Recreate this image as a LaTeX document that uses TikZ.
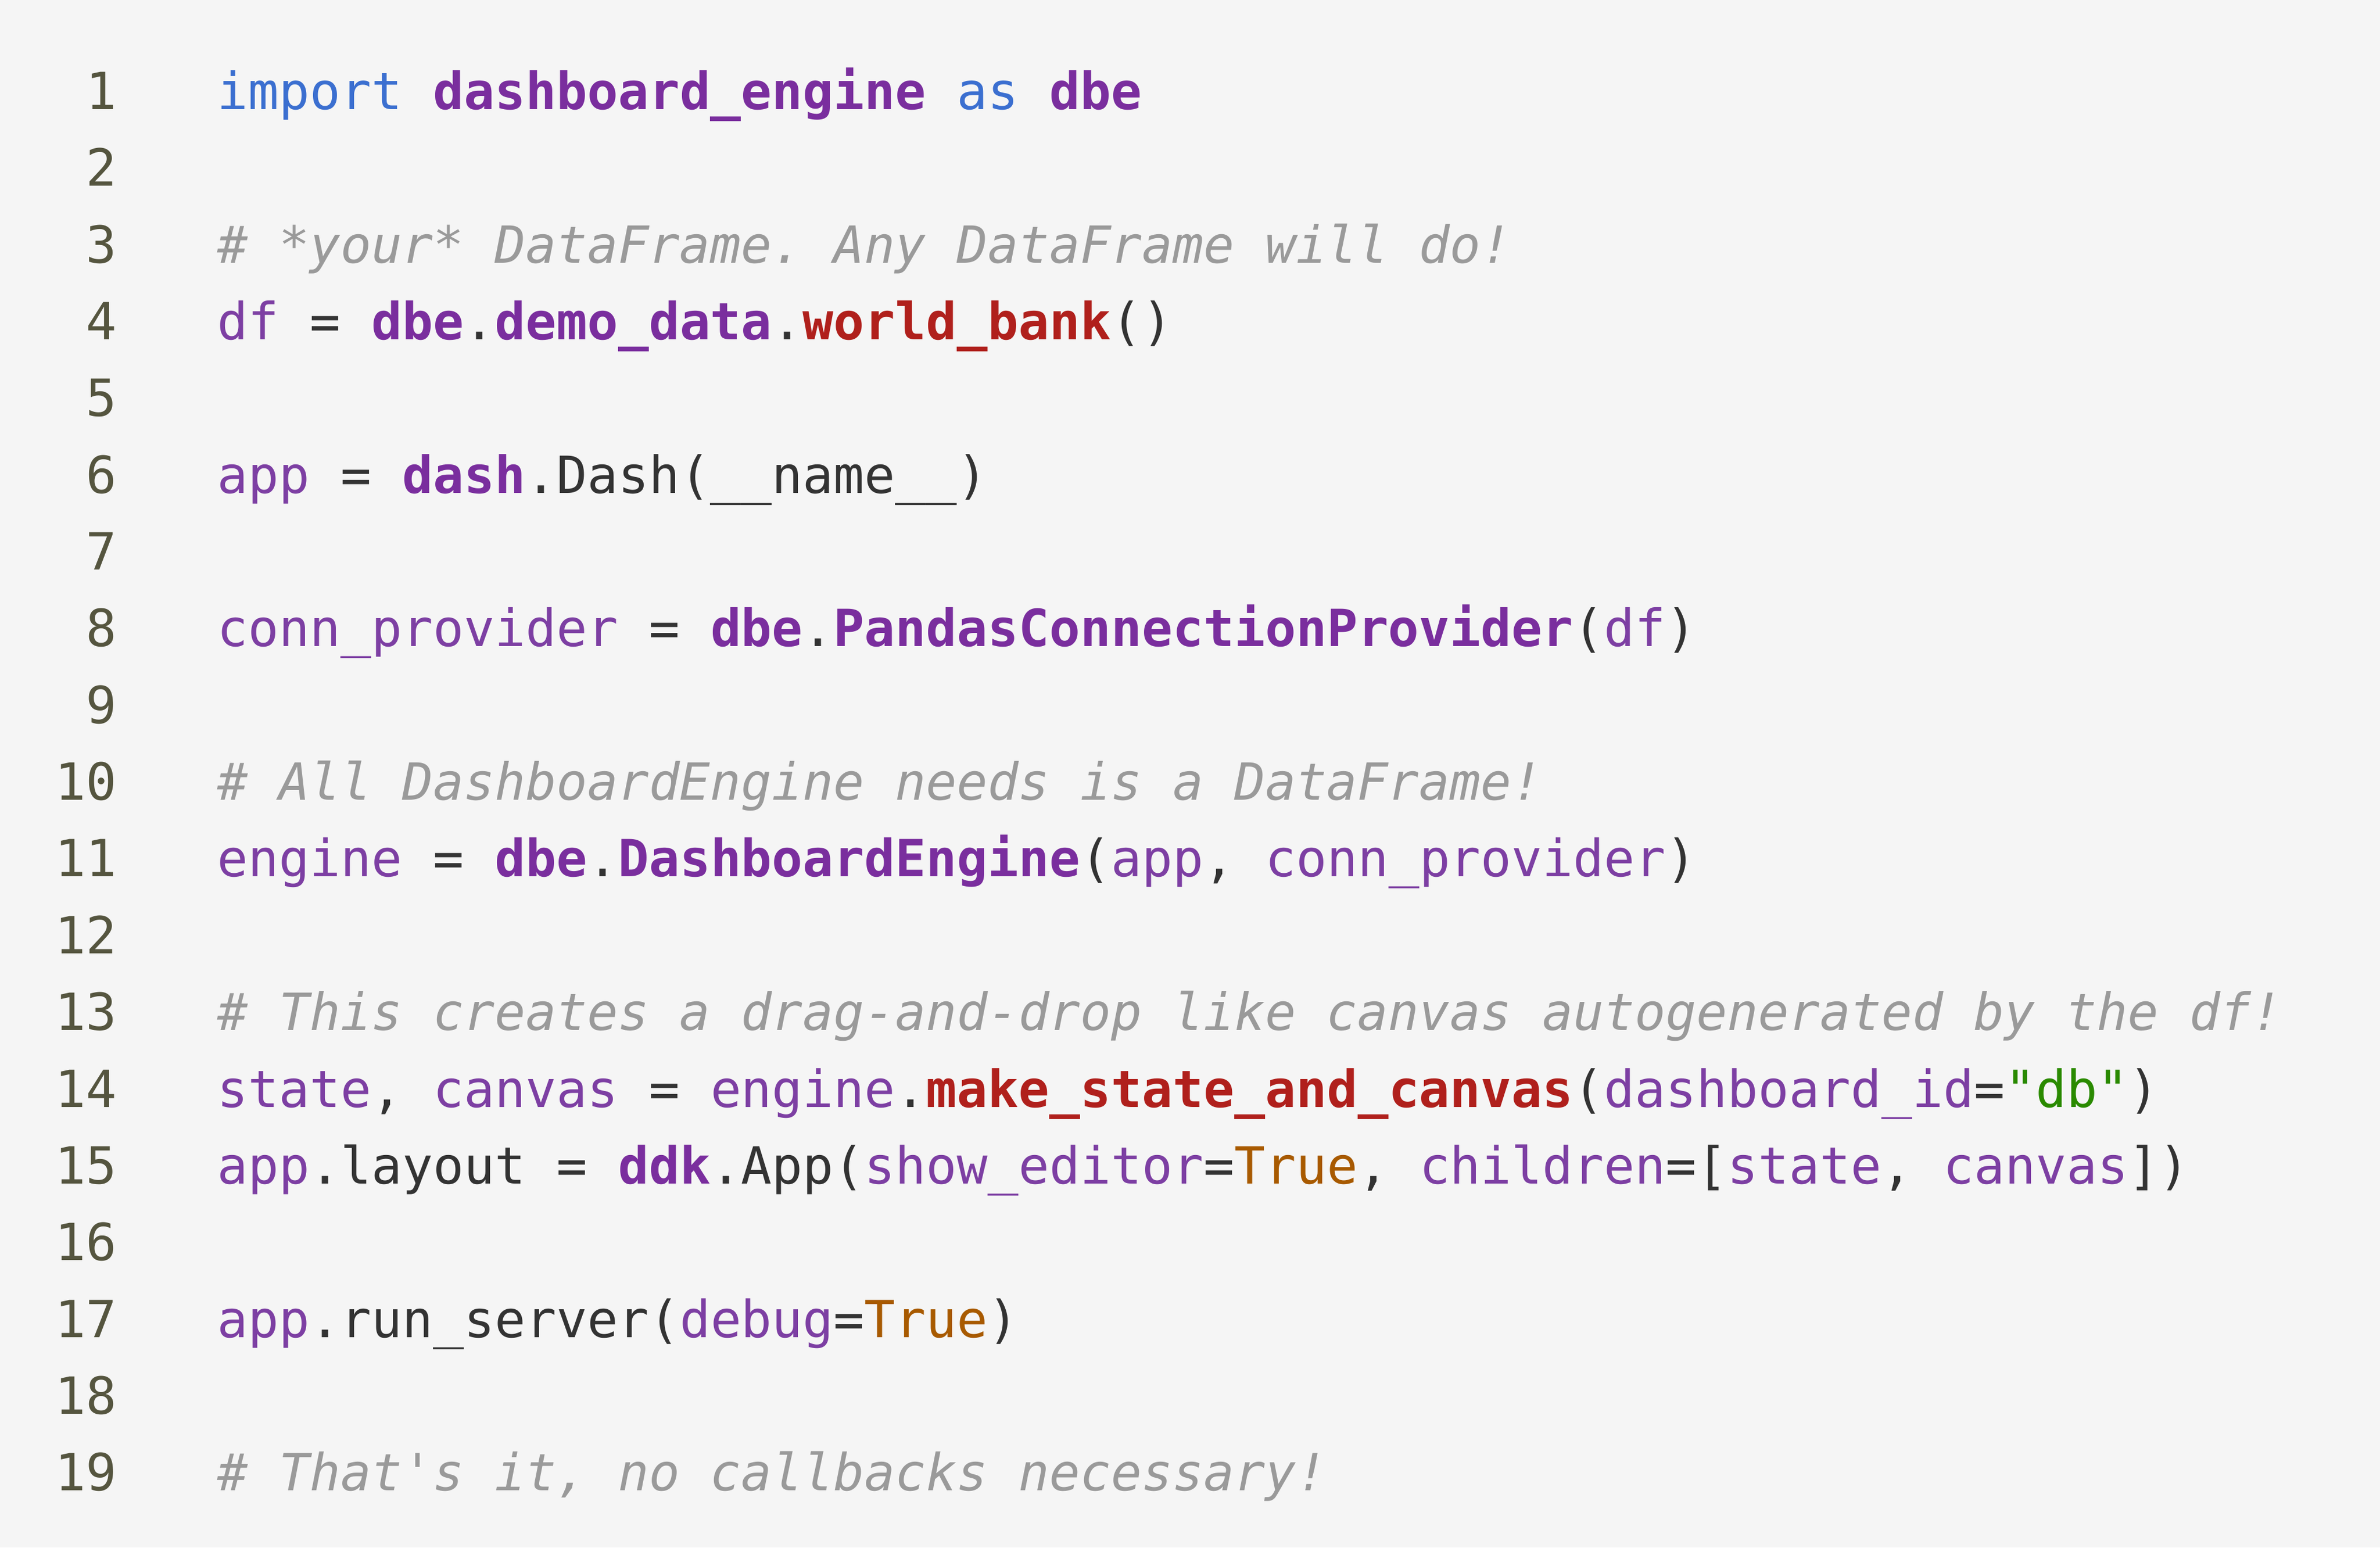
\documentclass[tikz,border=0pt]{standalone}
\usepackage{fontspec}
\setmonofont{DejaVu Sans Mono}
\usetikzlibrary{positioning}
\definecolor{bgray}{HTML}{F5F5F5}
\definecolor{numcol}{HTML}{55553F}
\definecolor{kwblue}{HTML}{3B6FD0}
\definecolor{modpurple}{HTML}{7A2E9E}
\definecolor{varpurple}{HTML}{7D3FA3}
\definecolor{fnred}{HTML}{B0201C}
\definecolor{comgray}{HTML}{9A9A9A}
\definecolor{plaingray}{HTML}{333333}
\definecolor{boolorange}{HTML}{A85A00}
\definecolor{strgreen}{HTML}{2A8A00}
\newcommand{\ckw}[1]{\textcolor{kwblue}{#1}}
\newcommand{\cmodule}[1]{\textcolor{modpurple}{\bfseries #1}}
\newcommand{\cfun}[1]{\textcolor{fnred}{\bfseries #1}}
\newcommand{\cvar}[1]{\textcolor{varpurple}{#1}}
\newcommand{\ccom}[1]{\textcolor{comgray}{\itshape #1}}
\newcommand{\cbool}[1]{\textcolor{boolorange}{#1}}
\newcommand{\cstr}[1]{\textcolor{strgreen}{#1}}
\newcommand{\cpl}[1]{\textcolor{plaingray}{#1}}
\tikzset{
  codeline/.style = {anchor=base west, inner sep=0, font=\ttfamily\fontsize{25.5}{30}\selectfont, text=plaingray},
  lineno/.style = {anchor=base east, inner sep=0, font=\ttfamily\fontsize{25.5}{30}\selectfont, text=numcol}
}
\begin{document}
\begin{tikzpicture}
  \fill [bgray] (0, 0) rectangle (41.67, -27.09);
  \useasboundingbox (0, 0) rectangle (41.67, -27.09);

  \foreach \i in {1,...,19}
    \node [lineno] (n\i) at (2.05, {-1.913 - (\i-1)*1.3436}) {\i};

  \node [codeline] (l1) at (3.80, -1.913) {\ckw{import} \cmodule{dashboard\_engine} \ckw{as} \cmodule{dbe}};
  \node [codeline] (l3) at (3.80, {-1.913 - 2*1.3436}) {\ccom{\# *your* DataFrame. Any DataFrame will do!}};
  \node [codeline] (l4) at (3.80, {-1.913 - 3*1.3436}) {\cvar{df} = \cmodule{dbe}.\cmodule{demo\_data}.\cfun{world\_bank}()};
  \node [codeline] (l6) at (3.80, {-1.913 - 5*1.3436}) {\cvar{app} = \cmodule{dash}.Dash(\_\_name\_\_)};
  \node [codeline] (l8) at (3.80, {-1.913 - 7*1.3436}) {\cvar{conn\_provider} = \cmodule{dbe}.\cmodule{PandasConnectionProvider}(\cvar{df})};
  \node [codeline] (l10) at (3.80, {-1.913 - 9*1.3436}) {\ccom{\# All DashboardEngine needs is a DataFrame!}};
  \node [codeline] (l11) at (3.80, {-1.913 - 10*1.3436}) {\cvar{engine} = \cmodule{dbe}.\cmodule{DashboardEngine}(\cvar{app}, \cvar{conn\_provider})};
  \node [codeline] (l13) at (3.80, {-1.913 - 12*1.3436}) {\ccom{\# This creates a drag-and-drop like canvas autogenerated by the df!}};
  \node [codeline] (l14) at (3.80, {-1.913 - 13*1.3436}) {\cvar{state}, \cvar{canvas} = \cvar{engine}.\cfun{make\_state\_and\_canvas}(\cvar{dashboard\_id}=\cstr{"db"})};
  \node [codeline] (l15) at (3.80, {-1.913 - 14*1.3436}) {\cvar{app}.layout = \cmodule{ddk}.App(\cvar{show\_editor}=\cbool{True}, \cvar{children}=[\cvar{state}, \cvar{canvas}])};
  \node [codeline] (l17) at (3.80, {-1.913 - 16*1.3436}) {\cvar{app}.run\_server(\cvar{debug}=\cbool{True})};
  \node [codeline] (l19) at (3.80, {-1.913 - 18*1.3436}) {\ccom{\# That's it, no callbacks necessary!}};
\end{tikzpicture}
\end{document}
